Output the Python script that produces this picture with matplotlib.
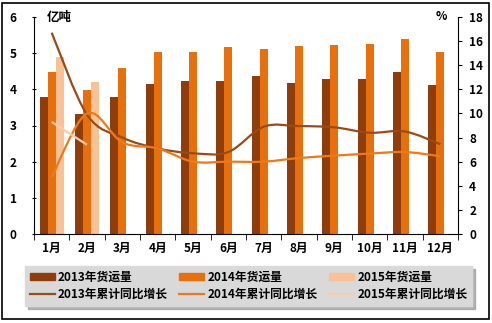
import matplotlib
matplotlib.use("Agg")
import matplotlib.pyplot as plt
import numpy as np
from matplotlib.path import Path
from matplotlib.patches import PathPatch, Patch, Rectangle
from matplotlib.lines import Line2D

plt.rcParams['font.family'] = ['Noto Sans CJK SC', 'DejaVu Sans']
plt.rcParams['font.weight'] = 'bold'

months = ['1月', '2月', '3月', '4月', '5月', '6月', '7月', '8月', '9月', '10月', '11月', '12月']

# 货运量（亿吨）
vol_2013 = [3.79, 3.32, 3.79, 4.16, 4.24, 4.24, 4.37, 4.18, 4.29, 4.29, 4.48, 4.12]
vol_2014 = [4.49, 3.99, 4.60, 5.02, 5.02, 5.18, 5.12, 5.20, 5.23, 5.26, 5.40, 5.04]
vol_2015 = [4.90, 4.21]

# 累计同比增长（%）
gr_2013 = [16.7, 9.9, 8.0, 7.1, 6.7, 6.8, 8.9, 8.95, 8.85, 8.4, 8.5, 7.45]
gr_2014 = [4.7, 10.0, 7.6, 7.1, 6.0, 6.0, 6.0, 6.3, 6.5, 6.67, 6.8, 6.45]
gr_2015 = [9.3, 7.4]

c13 = '#8E3E0C'
c14 = '#E8700C'
c15 = '#F9C196'
l13 = '#9C4A14'
l14 = '#EC7A1C'
l15 = '#FBCCA6'


def smooth_path(xs, ys):
    # bezier segments through every point, like a smoothed line in a spreadsheet
    pts = np.column_stack([xs, ys]).astype(float)
    n = len(pts)
    verts = [pts[0]]
    codes = [Path.MOVETO]
    for i in range(n - 1):
        p0 = pts[max(i - 1, 0)]
        p1 = pts[i]
        p2 = pts[i + 1]
        p3 = pts[min(i + 2, n - 1)]
        verts += [p1 + (p2 - p0) / 6, p2 - (p3 - p1) / 6, p2]
        codes += [Path.CURVE4] * 3
    return Path(verts, codes)


fig = plt.figure(figsize=(4.92, 3.23), dpi=100)
ax = fig.add_axes([34 / 492, 1 - 234 / 323, 424 / 492, 217 / 323])
ax2 = ax.twinx()

x = np.arange(len(months))
w = 0.227
ax.bar(x - w, vol_2013, w, color=c13, zorder=2)
ax.bar(x, vol_2014, w, color=c14, zorder=2)
ax.bar(x[:len(vol_2015)] + w, vol_2015, w, color=c15, zorder=2)

ax.set_xlim(-0.5, len(months) - 0.5)
ax.set_ylim(0, 6)
ax.set_yticks(range(0, 7))
ax.set_xticks(x)
ax.set_xticklabels(months)
ax.set_xticks(np.arange(-0.5, len(months), 1), minor=True)
ax.tick_params(axis='x', which='major', length=0, pad=6, labelsize=8.5)
ax.tick_params(axis='x', which='minor', length=4, direction='out')
ax.tick_params(axis='y', length=3, direction='inout', pad=11, labelsize=8.5)
ax.spines['top'].set_visible(False)
ax.spines['right'].set_visible(False)

ax2.set_ylim(0, 18)
ax2.set_yticks(range(0, 19, 2))
ax2.tick_params(axis='y', length=3, direction='out', pad=5, labelsize=8.5)
for s in ['top', 'left', 'bottom']:
    ax2.spines[s].set_visible(False)

for ys, col in [(gr_2013, l13), (gr_2014, l14), (gr_2015, l15)]:
    p = smooth_path(x[:len(ys)], ys)
    ax2.add_patch(PathPatch(p, facecolor='none', edgecolor=col, lw=1.6, zorder=3))

fig.text(47 / 492, 1 - 17 / 323, '亿吨', fontsize=9, va='center', ha='left')
fig.text(441 / 492, 1 - 17 / 323, '%', fontsize=8.5, va='center', ha='center')

handles = [
    Patch(color=c13), Line2D([], [], color=l13, lw=1.6),
    Patch(color=c14), Line2D([], [], color=l14, lw=1.6),
    Patch(color=c15), Line2D([], [], color=l15, lw=1.6),
]
labels = ['2013年货运量', '2013年累计同比增长',
          '2014年货运量', '2014年累计同比增长',
          '2015年货运量', '2015年累计同比增长']
leg = fig.legend(handles, labels, ncol=3, loc='center',
                 bbox_to_anchor=(25 / 492, 1 - 307 / 323, 447 / 492, 42 / 323),
                 mode='expand', fontsize=8.5, handlelength=2.1, handleheight=0.5,
                 handletextpad=0.3, labelspacing=0.35, borderaxespad=0,
                 fancybox=False, frameon=True,
                 shadow={'color': '#a0a0a0', 'alpha': 0.8})
leg.get_frame().set_facecolor('#d9d9d9')
leg.get_frame().set_edgecolor('#d9d9d9')

# outer frame
fig.patches.append(Rectangle((2 / 492, 4 / 323), 487 / 492, 316 / 323, transform=fig.transFigure,
                             fill=False, edgecolor='black', lw=1.2))

fig.savefig('out.png', dpi=100)
